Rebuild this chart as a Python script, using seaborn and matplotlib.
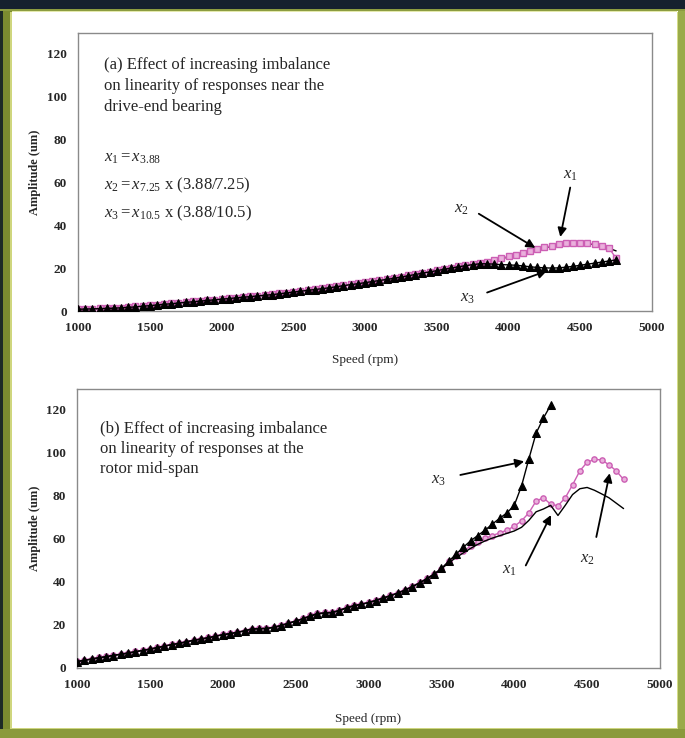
import numpy as np
import pandas as pd
import matplotlib
matplotlib.use("Agg")
import matplotlib.pyplot as plt
from matplotlib.patches import Rectangle
import seaborn as sns

sns.set_style("white")
plt.rcParams["font.family"] = ["Liberation Serif", "DejaVu Serif"]
plt.rcParams["mathtext.fontset"] = "custom"
plt.rcParams["mathtext.rm"] = "Liberation Serif"
plt.rcParams["mathtext.it"] = "Liberation Serif:italic"
plt.rcParams["mathtext.bf"] = "Liberation Serif:bold"

# ---------------- data ----------------
# (a) near the drive-end bearing, speed 1000..4750 rpm every 50 rpm
speed_a = np.arange(1000, 4800, 50)
amp_a_x1 = [0.8, 0.9, 1.0, 1.1, 1.2, 1.3, 1.5, 1.7, 2.0, 2.3,
            2.6, 2.9, 3.2, 3.5, 3.8, 4.1, 4.4, 4.7, 5.0, 5.2,
            5.5, 5.8, 6.1, 6.4, 6.7, 7.0, 7.3, 7.7, 8.1, 8.5,
            8.9, 9.3, 9.7, 10.1, 10.5, 10.9, 11.4, 11.9, 12.4, 12.8,
            13.3, 13.8, 14.3, 14.8, 15.3, 15.9, 16.5, 17.1, 17.7, 18.3,
            18.9, 19.5, 20.1, 20.7, 21.3, 21.8, 22.3,
            22.9, 23.6, 24.4, 25.2, 26.0, 26.8, 27.8, 28.6, 29.4, 30.2,
            30.8, 31.3, 31.6, 31.6, 31.4, 31.0, 30.2, 29.2, 28.0]
amp_a_x2 = [0.9, 1.0, 1.1, 1.2, 1.3, 1.4, 1.6, 1.8, 2.1, 2.4,
            2.7, 3.0, 3.3, 3.6, 3.9, 4.2, 4.5, 4.8, 5.0, 5.3,
            5.6, 5.9, 6.2, 6.5, 6.8, 7.1, 7.4, 7.8, 8.2, 8.6,
            9.0, 9.4, 9.8, 10.2, 10.6, 11.0, 11.5, 12.0, 12.4, 12.9,
            13.4, 13.9, 14.4, 14.9, 15.4, 16.0, 16.6, 17.2, 17.8, 18.4,
            19.0, 19.6, 20.2, 20.8, 21.4, 22.0, 22.5,
            23.0, 23.8, 24.6, 25.4, 26.2, 27.0, 28.0, 28.8, 29.6, 30.4,
            31.0, 31.5, 31.8, 31.8, 31.6, 31.2, 30.4, 29.4, 24.5]
amp_a_x3 = [0.8, 0.9, 1.0, 1.1, 1.2, 1.3, 1.5, 1.7, 1.9, 2.2,
            2.5, 2.8, 3.1, 3.4, 3.7, 4.0, 4.3, 4.6, 4.9, 5.2,
            5.5, 5.8, 6.1, 6.4, 6.7, 7.0, 7.3, 7.6, 8.0, 8.4,
            8.8, 9.2, 9.6, 10.0, 10.4, 10.8, 11.3, 11.8, 12.3, 12.7,
            13.2, 13.7, 14.2, 14.7, 15.2, 15.8, 16.4, 17.0, 17.6, 18.2,
            18.8, 19.4, 20.0, 20.6, 21.1, 21.6, 22.0,
            22.0, 21.8, 21.6, 21.5, 21.3, 21.0, 20.6, 20.3, 20.1, 20.0,
            20.1, 20.4, 20.8, 21.3, 21.8, 22.3, 22.8, 23.3, 23.8]

# (b) at the rotor mid-span
speed_b = np.arange(1000, 4800, 50)
speed_b_x3 = np.arange(1000, 4300, 50)
amp_b_x1 = [3.0, 3.6, 4.2, 4.8, 5.3, 5.9, 6.4, 7.0, 7.6, 8.2,
            8.8, 9.5, 10.2, 10.9, 11.5, 12.2, 12.9, 13.5, 14.1, 14.8,
            15.5, 16.0, 16.6, 17.3, 18.2, 18.3, 18.4, 18.9, 19.8, 20.8,
            21.8, 22.9, 24.2, 25.3, 25.6, 25.8, 26.8, 28.0, 29.0, 29.6,
            30.4, 31.4, 32.5, 33.6, 34.8, 36.2, 37.8, 39.5, 41.5, 43.6,
            46.0,
            48.8, 51.2, 53.4, 55.5, 57.4, 59.0, 60.3, 61.4, 62.5, 63.6,
            65.3, 68.5, 72.5, 73.8, 75.5, 70.8, 75.5, 80.5, 83.2, 83.8,
            82.5, 80.8, 79.0, 76.5, 74.0]
amp_b_x2 = [3.1, 3.7, 4.3, 4.9, 5.4, 6.0, 6.5, 7.1, 7.7, 8.3,
            8.9, 9.6, 10.3, 11.0, 11.6, 12.3, 13.0, 13.6, 14.2, 14.9,
            15.6, 16.1, 16.7, 17.4, 18.3, 18.5, 18.6, 19.0, 19.9, 20.9,
            21.9, 23.0, 24.4, 25.5, 25.8, 26.0, 27.0, 28.2, 29.2, 29.8,
            30.6, 31.6, 32.7, 33.8, 35.0, 36.4, 38.0, 39.7, 41.6, 43.7,
            46.0,
            49.5, 52.0, 54.3, 56.5, 58.5, 60.2, 61.5, 62.7, 64.0, 65.8,
            68.3, 72.0, 77.5, 79.0, 76.0, 75.3, 79.0, 85.0, 91.5, 95.5,
            96.8, 96.6, 94.3, 91.5, 87.5]
amp_b_x3 = [3.0, 3.5, 4.1, 4.7, 5.2, 5.8, 6.3, 6.9, 7.5, 8.1,
            8.7, 9.4, 10.1, 10.8, 11.4, 12.1, 12.8, 13.4, 14.0, 14.7,
            15.4, 15.9, 16.5, 17.2, 18.0, 18.2, 18.3, 18.8, 19.7, 20.7,
            21.7, 22.8, 24.0, 25.1, 25.4, 25.7, 26.6, 27.8, 28.8, 29.5,
            30.3, 31.3, 32.4, 33.5, 34.7, 36.1, 37.7, 39.4, 41.4, 43.5,
            46.2,
            49.5, 52.8, 56.0, 59.0, 61.5, 64.0, 66.8, 69.5, 72.0, 75.5,
            84.5, 97.0, 109.0, 116.0, 122.0]

x_ticks = [1000, 1500, 2000, 2500, 3000, 3500, 4000, 4500, 5000]
y_ticks = [0, 20, 40, 60, 80, 100, 120]

PINK = "#cc5fb4"
PINK_FILL = "#eab0dc"

W, H = 685, 738
fig = plt.figure(figsize=(W / 100, H / 100), dpi=100)
fig.patch.set_facecolor("white")


def frame_rect(x0, y0, x1, y1, color):
    fig.add_artist(Rectangle((x0 / W, 1 - y1 / H), (x1 - x0) / W, (y1 - y0) / H,
                             transform=fig.transFigure, facecolor=color,
                             edgecolor="none", zorder=-5))


# page frame
frame_rect(0, 0, 12, H, "#7b8b30")
frame_rect(10, 12, 12, H - 9, "#cfd67e")
frame_rect(0, 0, 3, H, "#1d2a26")
frame_rect(W - 7, 0, W, H, "#9aab4a")
frame_rect(W - 8, 12, W - 7, H - 9, "#d4dc88")
frame_rect(0, H - 9, W, H, "#8a9a3c")
frame_rect(12, H - 10, W - 8, H - 9, "#cdd580")
frame_rect(0, 0, W, 9, "#16212e")
frame_rect(0, 9, W, 11, "#8c9c40")
frame_rect(12, 11, W - 8, 12, "#e4e9ad")


def style_axes(ax, ylab_x, xlab_y):
    ax.set_xlim(1000, 5000)
    ax.set_ylim(0, 129.5)
    ax.set_xticks(x_ticks)
    ax.set_yticks(y_ticks)
    ax.set_xticklabels([str(t) for t in x_ticks], fontsize=9.5, fontweight="bold")
    ax.set_yticklabels([str(t) for t in y_ticks], fontsize=9.5, fontweight="bold")
    ax.tick_params(length=0, pad=8)
    for s in ax.spines.values():
        s.set_color("#8a8a8a")
        s.set_linewidth(1.0)
    ax.set_xlabel("Speed (rpm)", fontsize=9.5)
    ax.set_ylabel("Amplitude (um)", fontsize=9, fontweight="bold")
    ax.yaxis.set_label_coords(ylab_x, 0.5)
    ax.xaxis.set_label_coords(0.5, xlab_y)
    ax.set_facecolor("white")


def arrow(ax, start, tip):
    ax.annotate("", xy=tip, xytext=start,
                arrowprops=dict(arrowstyle="-|>", color="black", lw=1.3,
                                mutation_scale=13, shrinkA=0, shrinkB=0),
                zorder=6)


def label(ax, pos, txt):
    ax.text(pos[0], pos[1], txt, fontsize=12, ha="center", va="center", zorder=6)


# ---------------- (a) ----------------
ax1 = fig.add_axes([78 / W, 1 - 311 / H, 574 / W, 278 / H])
df_a1 = pd.DataFrame({"speed": speed_a, "amp": amp_a_x1})
df_a2 = pd.DataFrame({"speed": speed_a, "amp": amp_a_x2})
df_a3 = pd.DataFrame({"speed": speed_a, "amp": amp_a_x3})
sns.lineplot(data=df_a1, x="speed", y="amp", ax=ax1, color="black", lw=1.0,
             zorder=2)
sns.lineplot(data=df_a2, x="speed", y="amp", ax=ax1, color=PINK, lw=1.0,
             marker="s", markersize=4, markerfacecolor=PINK_FILL,
             markeredgecolor=PINK, markeredgewidth=1.0, zorder=3)
sns.lineplot(data=df_a3, x="speed", y="amp", ax=ax1, color="black", lw=1.0,
             marker="^", markersize=6, markeredgecolor="black", zorder=4)
style_axes(ax1, -37 / 574, -0.155)

ax1.text(0.045, 0.915, "(a) Effect of increasing imbalance\non linearity of responses near the\ndrive-end bearing",
         transform=ax1.transAxes, fontsize=12, va="top", ha="left", linespacing=1.45)
ax1.text(0.045, 0.549, r"$x_{\mathit{1}} = x_{\mathit{3.88}}$", transform=ax1.transAxes,
         fontsize=12, va="center", ha="left")
ax1.text(0.045, 0.451, r"$x_{\mathit{2}} = x_{\mathit{7.25}}$ x (3.88/7.25)", transform=ax1.transAxes,
         fontsize=12, va="center", ha="left")
ax1.text(0.045, 0.35, r"$x_{\mathit{3}} = x_{\mathit{10.5}}$ x (3.88/10.5)", transform=ax1.transAxes,
         fontsize=12, va="center", ha="left")

label(ax1, (4430, 63.5), r"$x_{\mathit{1}}$")
arrow(ax1, (4430, 57.5), (4361, 34.5))
label(ax1, (3673, 47.6), r"$x_{\mathit{2}}$")
arrow(ax1, (3793, 45.3), (4187, 29.4))
label(ax1, (3712, 6.0), r"$x_{\mathit{3}}$")
arrow(ax1, (3851, 8.6), (4268, 18.7))

# ---------------- (b) ----------------
ax2 = fig.add_axes([77 / W, 1 - 668 / H, 583 / W, 279 / H])
df_b1 = pd.DataFrame({"speed": speed_b, "amp": amp_b_x1})
df_b2 = pd.DataFrame({"speed": speed_b, "amp": amp_b_x2})
df_b3 = pd.DataFrame({"speed": speed_b_x3, "amp": amp_b_x3})
sns.lineplot(data=df_b1, x="speed", y="amp", ax=ax2, color="black", lw=1.0,
             zorder=3)
sns.lineplot(data=df_b2, x="speed", y="amp", ax=ax2, color=PINK, lw=1.0,
             marker="o", markersize=3.8, markerfacecolor=PINK_FILL,
             markeredgecolor=PINK, markeredgewidth=1.0, zorder=2)
sns.lineplot(data=df_b3, x="speed", y="amp", ax=ax2, color="black", lw=1.0,
             marker="^", markersize=6, markeredgecolor="black", zorder=4)
style_axes(ax2, -36 / 583, -0.16)

ax2.text(0.04, 0.885, "(b) Effect of increasing imbalance\non linearity of responses at the\nrotor mid-span",
         transform=ax2.transAxes, fontsize=12, va="top", ha="left", linespacing=1.35)

label(ax2, (3480, 87.3), r"$x_{\mathit{3}}$")
arrow(ax2, (3630, 89.6), (4068, 95.9))
label(ax2, (3964, 45.3), r"$x_{\mathit{1}}$")
arrow(ax2, (4079, 47.6), (4252, 71.0))
label(ax2, (4505, 50.8), r"$x_{\mathit{2}}$")
arrow(ax2, (4563, 60.8), (4655, 90.4))

fig.savefig("out.png", dpi=100, facecolor=fig.get_facecolor())
